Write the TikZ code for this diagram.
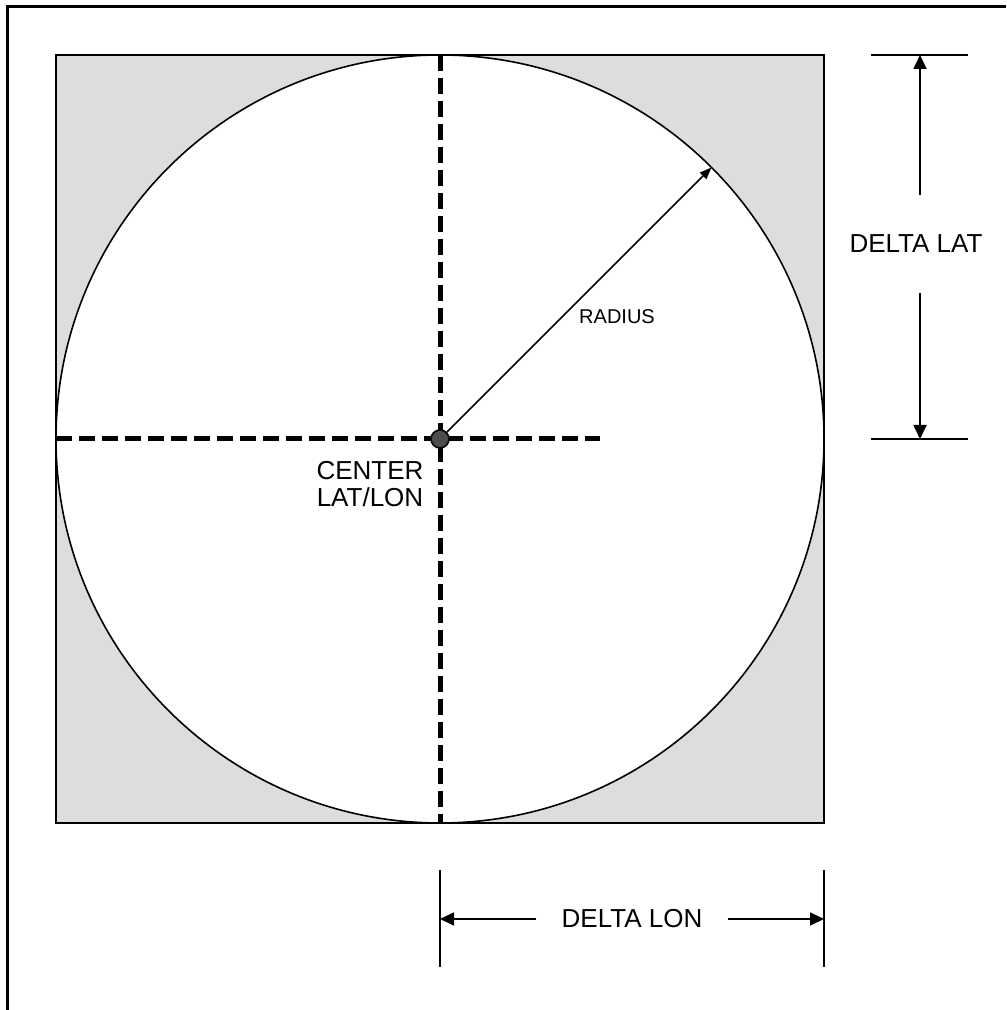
\documentclass[tikz,border=0pt]{standalone}
\usepackage{fontspec}
\setmainfont{Liberation Sans}
\usetikzlibrary{positioning,arrows.meta,calc}
\definecolor{shade}{HTML}{DDDDDD}
\definecolor{dotgray}{HTML}{4D4D4D}
\tikzset{frame/.style={line width=1.5pt,line join=miter},
  outline/.style={draw=black,line width=0.8pt},
  axisline/.style={line width=2.5pt,dash pattern=on 8pt off 3.5pt},
  extline/.style={line width=1pt},
  dimarrow/.style={->,line width=0.9pt},
  lbl/.style={font=\fontsize{13}{13.5}\selectfont,inner sep=0pt},
  smalllbl/.style={font=\fontsize{10}{12}\selectfont,inner sep=0pt},
  cdot/.style={circle,draw=black,line width=0.8pt,fill=dotgray,minimum size=9pt,inner sep=0pt}}

\begin{document}
\begin{tikzpicture}[x=0.5pt,y=0.5pt,>={Triangle[length=7pt,width=6.5pt]}]
    \useasboundingbox (0,0) rectangle (1006,1010);
    \draw[frame](7.5,0)--(7.5,1003.5)--(1006,1003.5);
    % square with the circle inside
    \coordinate (C) at (440,571);
    \draw[outline,fill=shade](56,187)rectangle(824,955);
    \draw[outline,fill=white](C)circle(384);
    \draw[axisline](56,571)--(600,571);\draw[axisline](440,955)--(440,187);
    \node[cdot] (ctr) at (C) {};
    \coordinate (rim) at ($(C)+(45:384)$);
    \draw[line width=0.75pt,-{Triangle[length=6pt,width=4.5pt]}](ctr)--(rim);
    \node[smalllbl] (rad) at (617,693) {RADIUS};
    \node[lbl,align=center] (cll) at (370,526) {CENTER\\LAT/LON};
    % delta lat
    \coordinate (latT) at (920,955);\coordinate (latB) at (920,571);
    \draw[extline](871,955)--(968,955);\draw[extline](871,571)--(968,571);
    \node[lbl,minimum height=49pt] (dlat) at (916,766) {DELTA LAT};
    \draw[dimarrow](dlat.north -| latT)--(latT);\draw[dimarrow](dlat.south -| latB)--(latB);
    % delta lon
    \coordinate (lonL) at (440,91);\coordinate (lonR) at (824,91);
    \draw[extline](440,140)--(440,43);\draw[extline](824,140)--(824,43);
    \node[lbl,minimum width=95.5pt] (dlon) at (632,91) {DELTA LON};
    \draw[dimarrow](dlon.west)--(lonL);\draw[dimarrow](dlon.east)--(lonR);
  \end{tikzpicture}
\end{document}
